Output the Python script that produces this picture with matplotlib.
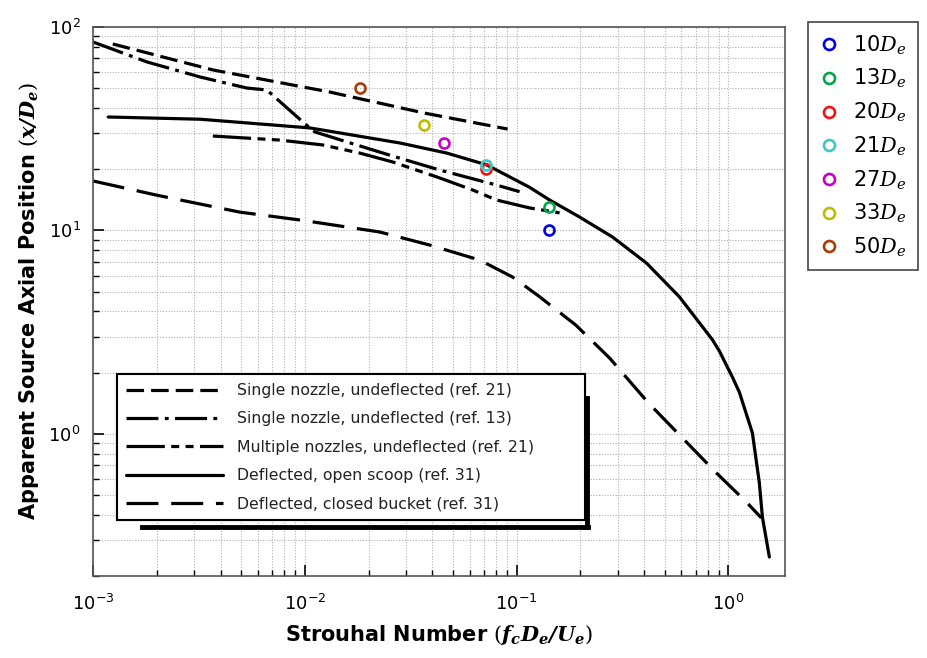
import matplotlib
matplotlib.use('Agg')
import matplotlib.pyplot as plt

plt.rcParams['mathtext.fontset'] = 'dejavuserif'
plt.rcParams['font.family'] = ['DejaVu Sans']

# ---------------- data ----------------
sn21_x = [0.00124, 0.00368, 0.0131, 0.0364, 0.0907]
sn21_y = [82.5, 61.5, 47.9, 37.8, 31.5]

sn13_x = [0.001, 0.0018, 0.0032, 0.00532, 0.00662, 0.0098, 0.01114, 0.01758, 0.026, 0.0434, 0.0805, 0.1033]
sn13_y = [84.4, 67.3, 56.8, 50.1, 49.0, 34.1, 30.5, 26.3, 23.2, 19.8, 16.7, 15.5]

mn21_x = [0.00368, 0.00762, 0.01216, 0.01815, 0.026, 0.0434, 0.062, 0.0805, 0.115, 0.1596]
mn21_y = [29.1, 27.8, 26.3, 24.0, 21.7, 18.1, 15.8, 14.1, 12.9, 12.2]

scoop_x = [0.00118, 0.0032, 0.01056, 0.0281, 0.0468, 0.0722, 0.115, 0.1431, 0.1982, 0.2836,
           0.4104, 0.5873, 0.8406, 0.9068, 1.0445, 1.127, 1.298, 1.40, 1.447, 1.561]
scoop_y = [36.1, 35.2, 31.9, 26.9, 24.0, 21.0, 16.3, 14.11, 11.64, 9.28,
           6.91, 4.71, 2.9, 2.55, 1.90, 1.60, 1.01, 0.573, 0.39, 0.248]

bucket_x = [0.001, 0.002, 0.00493, 0.0098, 0.0226, 0.0389, 0.0669, 0.0957, 0.127, 0.19,
            0.2746, 0.4195, 0.6067, 0.878, 1.216, 1.43]
bucket_y = [17.5, 14.9, 12.3, 11.2, 9.82, 8.47, 7.15, 5.9, 4.76, 3.43,
            2.36, 1.417, 0.954, 0.642, 0.462, 0.386]

line_labels = ['Single nozzle, undeflected (ref. 21)',
               'Single nozzle, undeflected (ref. 13)',
               'Multiple nozzles, undeflected (ref. 21)',
               'Deflected, open scoop (ref. 31)',
               'Deflected, closed bucket (ref. 31)']

pt_labels = ['10', '13', '20', '21', '27', '33', '50']
pt_x = [0.1415, 0.1415, 0.0714, 0.0714, 0.0453, 0.0364, 0.0182]
pt_y = [10, 13, 20, 21, 27, 33, 50]
pt_colors = ['#0000e6', '#00a84a', '#f01414', '#3cc8c8', '#c800c8', '#bebe00', '#aa3c0a']

# ---------------- figure ----------------
fig = plt.figure(figsize=(9.28, 6.58), dpi=100)
ax = fig.add_axes([0.1002, 0.1246, 0.7457, 0.8344])
ax.set_xscale('log')
ax.set_yscale('log')
ax.set_xlim(1e-3, 1.85)
ax.set_ylim(0.2, 100)

lw = 2.3
series = [
    (sn21_x, sn21_y, (0, (5.5, 2.2))),
    (sn13_x, sn13_y, (0, (10, 2, 1.2, 2))),
    (mn21_x, mn21_y, (0, (12, 2, 2.5, 2, 2.5, 2))),
    (scoop_x, scoop_y, '-'),
    (bucket_x, bucket_y, (0, (10, 4))),
]
handles = []
for (xs, ys, ls), lab in zip(series, line_labels):
    h, = ax.plot(xs, ys, color='black', lw=lw, linestyle=ls, label=lab,
                 solid_capstyle='round', solid_joinstyle='round', dash_capstyle='butt')
    handles.append(h)

pt_handles = []
for x, y, c, lab in zip(pt_x, pt_y, pt_colors, pt_labels):
    h, = ax.plot([x], [y], linestyle='none', marker='o', markersize=7.2,
                 markerfacecolor='none', markeredgecolor=c, markeredgewidth=1.9,
                 label=lab + r'$D_e$', zorder=5)
    pt_handles.append(h)

ax.grid(True, which='both', linestyle=(0, (1, 1.5)), color='#b0b0b0', lw=0.8)
ax.tick_params(which='both', direction='in', top=False, right=False)
ax.tick_params(which='major', length=8, width=1.2, labelsize=13)
ax.tick_params(axis='x', which='major', pad=13)
ax.tick_params(axis='y', which='major', pad=9)
ax.tick_params(which='minor', length=4, width=1.0)
for s in ax.spines.values():
    s.set_color('#555555')
    s.set_linewidth(1.2)

ax.set_xlabel(r'Strouhal Number $(\mathbfit{f_c D_e/U_e})$', fontsize=15,
              fontweight='bold', labelpad=6)
ax.set_ylabel(r'Apparent Source Axial Position $(\mathbfit{x/D_e})$', fontsize=15,
              fontweight='bold', labelpad=5)

leg1 = ax.legend(handles=handles, loc='lower left',
                 bbox_to_anchor=(0.0347, 0.102, 0.676, 0.273), mode='expand',
                 borderaxespad=0, fontsize=11.3, handlelength=6.2, handletextpad=0.9,
                 labelspacing=0.85, borderpad=0.55, fancybox=False, edgecolor='black',
                 framealpha=1)
leg1.get_frame().set_linewidth(1.5)
for t in leg1.get_texts():
    t.set_color('#222222')
ax.add_artist(leg1)

# drop-shadow strokes of the inner legend box
ax.plot([0.071, 0.715], [0.089, 0.089], transform=ax.transAxes, color='black', lw=3.5,
        clip_on=False, zorder=6)
ax.plot([0.714, 0.714], [0.089, 0.324], transform=ax.transAxes, color='black', lw=3.5,
        clip_on=False, zorder=6)

leg2 = fig.legend(handles=pt_handles, loc='upper left', bbox_to_anchor=(0.871, 0.9666),
                  fontsize=15, markerscale=1.1, handlelength=0.9, handletextpad=0.7,
                  labelspacing=0.5, fancybox=False, edgecolor='#444444', framealpha=1,
                  borderpad=0.55, borderaxespad=0)
leg2.get_frame().set_linewidth(1.2)

fig.savefig('out.png', dpi=100)
